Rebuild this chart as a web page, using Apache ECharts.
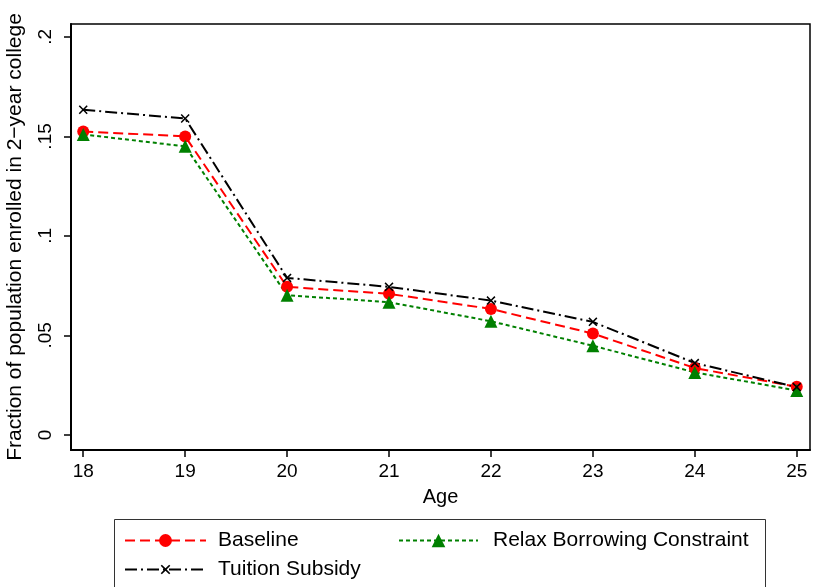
<!DOCTYPE html>
<html>
<head>
<meta charset="utf-8">
<script src="https://cdn.jsdelivr.net/npm/echarts@6/dist/echarts.min.js"></script>
<style>
html,body{margin:0;padding:0;background:#fff;}
#chart{width:813px;height:587px;}
</style>
</head>
<body>
<div id="chart"></div>
<script>
var ages = [18, 19, 20, 21, 22, 23, 24, 25];
var baseline = [0.1525, 0.1500, 0.0744, 0.0709, 0.0633, 0.0509, 0.0336, 0.0242];
var relaxBorrowing = [0.1510, 0.1450, 0.0702, 0.0667, 0.0571, 0.0448, 0.0314, 0.0223];
var tuitionSubsidy = [0.1634, 0.1590, 0.0789, 0.0744, 0.0675, 0.0568, 0.0361, 0.0240];
var yTicks = [0, 0.05, 0.1, 0.15, 0.2];
var yTickLabels = ['0', '.05', '.1', '.15', '.2'];
var xTicks = ages;

function pairs(vals){ return ages.map(function(a,i){ return [a, vals[i]]; }); }

var FONT = '"Liberation Sans", Arial, sans-serif';
var xShape = 'path://M0,1.2 L1.2,0 L5,3.8 L8.8,0 L10,1.2 L6.2,5 L10,8.8 L8.8,10 L5,6.2 L1.2,10 L0,8.8 L3.8,5 Z';

var chart = echarts.init(document.getElementById('chart'), null, {renderer:'canvas'});
var option = {
  backgroundColor: '#fff',
  animation: false,
  grid: {left: 71, right: 3, top: 24, bottom: 137, show: true, borderColor: '#000', borderWidth: 1.5, containLabel: false, outerBoundsMode: 'none'},
  xAxis: {
    type: 'value', min: 17.88, max: 25.13,
    name: 'Age', nameLocation: 'middle', nameGap: 37,
    nameTextStyle: {fontFamily: FONT, fontSize: 20, color: '#000'},
    axisLine: {show: true, onZero: false, lineStyle: {color: '#000', width: 2}},
    axisTick: {show: true, length: 7, lineStyle: {color: '#000', width: 1.5}, customValues: xTicks},
    axisLabel: {fontFamily: FONT, fontSize: 19, color: '#000', margin: 12, customValues: xTicks},
    splitLine: {show: false}
  },
  yAxis: {
    type: 'value', min: -0.0076, max: 0.2065,
    name: 'Fraction of population enrolled in 2\u2212year college', nameLocation: 'middle', nameGap: 45, nameRotate: 90,
    nameTextStyle: {fontFamily: FONT, fontSize: 21, color: '#000'},
    axisLine: {show: true, onZero: false, lineStyle: {color: '#000', width: 2}},
    axisTick: {show: true, length: 7, lineStyle: {color: '#000', width: 1.5}, customValues: yTicks},
    axisLabel: {fontFamily: FONT, fontSize: 19, color: '#000', margin: 16, rotate: 90, customValues: yTicks,
      formatter: function(v){ for (var i=0;i<yTicks.length;i++){ if (Math.abs(v-yTicks[i])<1e-9) return yTickLabels[i]; } return ''; }},
    splitLine: {show: false}
  },
  legend: [
    {data: ['Baseline'], left: 119, top: 525, itemWidth: 81, itemHeight: 16, textStyle: {fontFamily: FONT, fontSize: 21, color: '#000', padding: [0,0,0,7]}},
    {data: ['Relax Borrowing Constraint'], left: 393, top: 525, itemWidth: 79, itemHeight: 17, textStyle: {fontFamily: FONT, fontSize: 21, color: '#000', padding: [0,0,0,10]}},
    {data: ['Tuition Subsidy'], left: 119, top: 554, itemWidth: 81, itemHeight: 12, textStyle: {fontFamily: FONT, fontSize: 21, color: '#000', padding: [0,0,0,7]}}
  ],
  graphic: [
    {type: 'rect', shape: {x: 114.5, y: 519.5, width: 651, height: 90}, style: {fill: 'none', stroke: '#333', lineWidth: 1}, silent: true}
  ],
  series: [
    {name: 'Baseline', type: 'line', data: pairs(baseline), symbol: 'circle', symbolSize: 12,
      itemStyle: {color: '#ff0000'}, lineStyle: {color: '#ff0000', width: 2, type: [10, 5]}},
    {name: 'Relax Borrowing Constraint', type: 'line', data: pairs(relaxBorrowing), symbol: 'triangle', symbolSize: 13,
      itemStyle: {color: '#008000'}, lineStyle: {color: '#008000', width: 2, type: [4, 3]}},
    {name: 'Tuition Subsidy', type: 'line', data: pairs(tuitionSubsidy), symbol: xShape, symbolSize: 9,
      itemStyle: {color: '#000'}, lineStyle: {color: '#000', width: 2, type: [12, 4, 2, 4]}}
  ]
};
chart.setOption(option);
</script>
</body>
</html>
